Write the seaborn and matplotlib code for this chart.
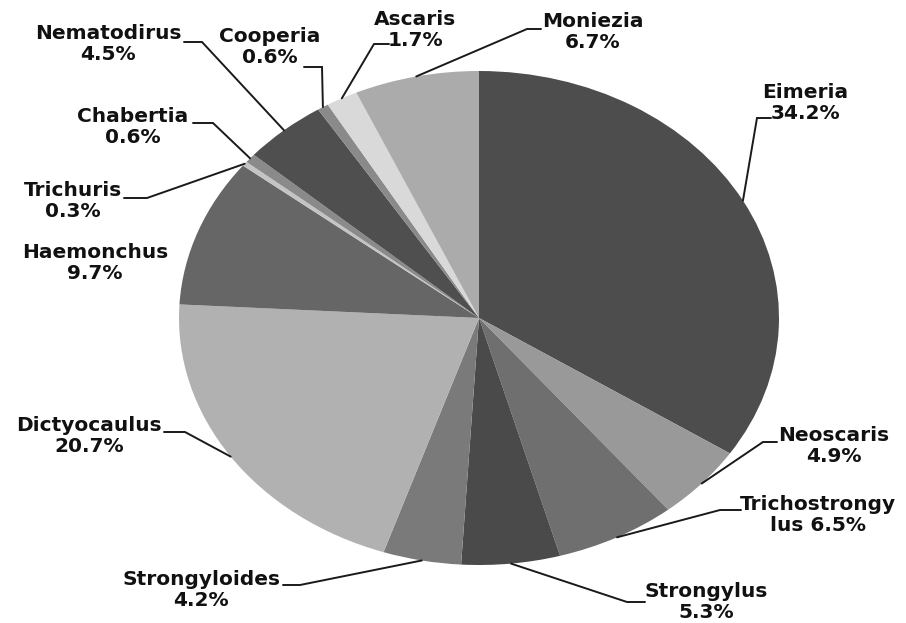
import numpy as np
import matplotlib
matplotlib.use("Agg")
import matplotlib.pyplot as plt
import seaborn as sns

# ---- data ----
labels = ["Eimeria", "Neoscaris", "Trichostrongylus", "Strongylus", "Strongyloides",
          "Dictyocaulus", "Haemonchus", "Trichuris", "Chabertia", "Nematodirus",
          "Cooperia", "Ascaris", "Moniezia"]
values = [34.2, 4.9, 6.5, 5.3, 4.2, 20.7, 9.7, 0.3, 0.6, 4.5, 0.6, 1.7, 6.7]
label_texts = ["Eimeria\n34.2%", "Neoscaris\n4.9%", "Trichostrongy\nlus 6.5%",
               "Strongylus\n5.3%", "Strongyloides\n4.2%", "Dictyocaulus\n20.7%",
               "Haemonchus\n9.7%", "Trichuris\n0.3%", "Chabertia\n0.6%",
               "Nematodirus\n4.5%", "Cooperia\n0.6%", "Ascaris\n1.7%", "Moniezia\n6.7%"]
colors = ["#4d4d4d", "#999999", "#6f6f6f", "#4a4a4a", "#7a7a7a", "#b1b1b1",
          "#666666", "#c4c4c4", "#8a8a8a", "#4f4f4f", "#8a8a8a", "#d9d9d9", "#ababab"]

# ---- layout (pixels in a 906x623 canvas) ----
text_pos = [(805, 103), (834, 446), (818, 515), (706, 602), (201, 590), (89, 436),
            (95, 263), (73, 201), (133, 127), (108, 44), (270, 47), (415, 30), (593, 32)]
elbow = [(757, 118), (763, 442), (720, 510), (627, 602), (300, 585), (185, 432),
         None, (147, 198), (213, 123), (202, 42), (322, 67), (374, 44), (527, 29)]
hend = [(771, 118), (777, 442), (741, 510), (645, 602), (283, 585), (164, 432),
        None, (124, 198), (193, 123), (184, 42), (304, 67), (389, 44), (541, 29)]

sns.set_theme(style="white")
plt.rcParams['font.family'] = ['DejaVu Sans']
W, H = 906, 623
fig = plt.figure(figsize=(W / 100, H / 100), dpi=100)
fig.patch.set_facecolor("white")

ax = fig.add_axes([179 / W, (H - 565) / H, 600 / W, 494 / H])
pal = sns.color_palette(colors)
wedges, _ = ax.pie(values, colors=pal, startangle=90, counterclock=False,
                   wedgeprops=dict(linewidth=0, antialiased=True))
ax.set_aspect("auto")
ax.set_xlim(-1, 1)
ax.set_ylim(-1, 1)
ax.axis("off")

ov = fig.add_axes([0, 0, 1, 1], facecolor="none")
ov.set_xlim(0, W)
ov.set_ylim(H, 0)
ov.axis("off")

total = sum(values)
start = 90.0
for i, v in enumerate(values):
    ang = v / total * 360.0
    mid = np.deg2rad(start - ang / 2)
    start -= ang
    tx, ty = text_pos[i]
    ov.text(tx, ty, label_texts[i], ha="center", va="center", fontsize=14.5,
            fontweight="bold", color="#111111", linespacing=1.15, multialignment="center")
    if elbow[i] is None:
        continue
    dx, dy = ax.transData.transform((np.cos(mid), np.sin(mid)))
    ax_px, ay_px = dx, H - dy
    ex, ey = elbow[i]
    hx, hy = hend[i]
    ov.plot([ax_px, ex, hx], [ay_px, ey, hy], color="#1a1a1a", lw=1.4,
            solid_joinstyle="miter")

fig.savefig("out.png", dpi=100, facecolor="white")
